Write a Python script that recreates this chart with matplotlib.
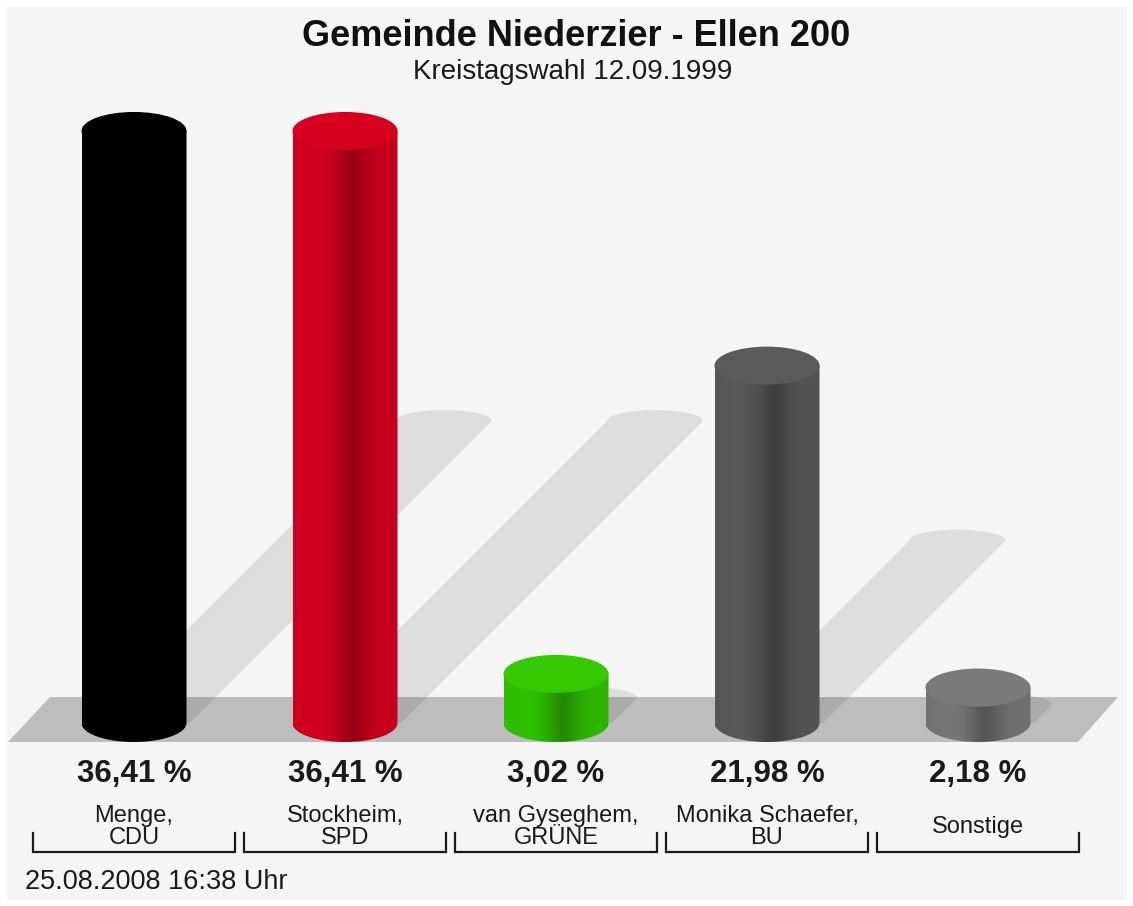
import numpy as np
import matplotlib
matplotlib.use("Agg")
import matplotlib.pyplot as plt
from matplotlib.patches import Polygon, Ellipse, Rectangle

plt.rcParams['font.family'] = ['Liberation Sans', 'DejaVu Sans']

title = "Gemeinde Niederzier - Ellen 200"
subtitle = "Kreistagswahl 12.09.1999"
footer = "25.08.2008 16:38 Uhr"
names = ["Menge,\nCDU", "Stockheim,\nSPD", "van Gyseghem,\nGRÜNE", "Monika Schaefer,\nBU", "Sonstige"]
values = [36.41, 36.41, 3.02, 21.98, 2.18]
value_labels = ["36,41 %", "36,41 %", "3,02 %", "21,98 %", "2,18 %"]
base_colors = ["#000000", "#d2001f", "#30c000", "#585858", "#767676"]
top_colors = ["#000000", "#d6001f", "#36c800", "#5a5a5a", "#7a7a7a"]

# layout (pixels)
W, H = 1133, 906
X0, DX = 134, 211          # first bar centre, spacing
Y0, PY = 723, 16.26        # baseline pixel, pixels per percent
BAR_W = 105 / DX
ELL_H = 38 / PY

fig = plt.figure(figsize=(W / 100, H / 100), dpi=100)
fig.patch.set_facecolor("white")
ax = fig.add_axes([0, 0, 1, 1])
ax.set_xlim(-X0 / DX, (W - X0) / DX)
ax.set_ylim((Y0 - H) / PY, Y0 / PY)
ax.axis("off")


def px(x, y):
    return ((x - X0) / DX, (Y0 - y) / PY)


# panel background
bx, by = px(7, 899)
ax.add_patch(Rectangle((bx, by), 1119 / DX, 892 / PY, color="#f5f5f5", zorder=0))

# floor
ax.add_patch(Polygon([px(8, 742), px(1078, 742), px(1118, 697), px(50, 697)],
                     closed=True, color="#bdbdbd", lw=0, zorder=1))

# shadows
for i, v in enumerate(values):
    d = 0.51 * v * PY          # shadow length in px (45 degrees)
    xc = X0 + DX * i + 8
    hw = 48
    t = np.linspace(np.pi, 0, 40)
    top = [px(xc + d + hw * np.cos(a), Y0 - d - 11 * np.sin(a)) for a in t]
    pts = [px(xc - hw, Y0)] + top + [px(xc + hw, Y0)]
    ax.add_patch(Polygon(pts, closed=True, color="black", alpha=0.095, lw=0, zorder=2))

# cylinders
tt = np.linspace(0, 1, 200)
shade = 1 - 0.24 * np.exp(-((tt - 0.56) / 0.16) ** 2) - 0.06 * (1 - np.exp(-((tt - 0.3) / 0.35) ** 2))
for i, v in enumerate(values):
    rgb = np.array(matplotlib.colors.to_rgb(base_colors[i]))
    img = np.clip(shade[None, :, None] * rgb[None, None, :], 0, 1)
    left, right = i - BAR_W / 2, i + BAR_W / 2
    a = np.linspace(np.pi, 2 * np.pi, 60)
    bottom = [(i + BAR_W / 2 * np.cos(q), ELL_H / 2 * np.sin(q)) for q in a]
    body = [(left, v)] + bottom + [(right, v)]
    clip = Polygon(body, closed=True, transform=ax.transData)
    im = ax.imshow(img, extent=[left, right, -ELL_H / 2, v], aspect="auto",
                   interpolation="bilinear", zorder=3)
    im.set_clip_path(clip)
    ax.add_patch(Ellipse((i, v), BAR_W, ELL_H, color=top_colors[i], lw=0, zorder=4))

# labels and brackets
for i, v in enumerate(values):
    ax.text(i, (Y0 - 774) / PY, value_labels[i], ha="center", va="center",
            fontsize=22.5, fontweight="bold", color="#1a1a1a")
    ax.text(i, (Y0 - 827) / PY, names[i], ha="center", va="center",
            fontsize=17, color="#1a1a1a", linespacing=1.0)
    bl, br = i - 101 / DX, i + 101 / DX
    yb, yt = (Y0 - 852) / PY, (Y0 - 833) / PY
    ax.plot([bl, bl, br, br], [yt, yb, yb, yt], color="#1a1a1a", lw=1.6,
            solid_joinstyle="miter", zorder=5)

fig.text(576 / W, 1 - 37 / H, title, ha="center", va="center",
         fontsize=26, fontweight="bold", color="#111111")
fig.text(573 / W, 1 - 72 / H, subtitle, ha="center", va="center",
         fontsize=20, color="#1a1a1a")
fig.text(25 / W, 1 - 882 / H, footer, ha="left", va="center",
         fontsize=19.5, color="#1a1a1a")

fig.savefig("out.png", dpi=100)
